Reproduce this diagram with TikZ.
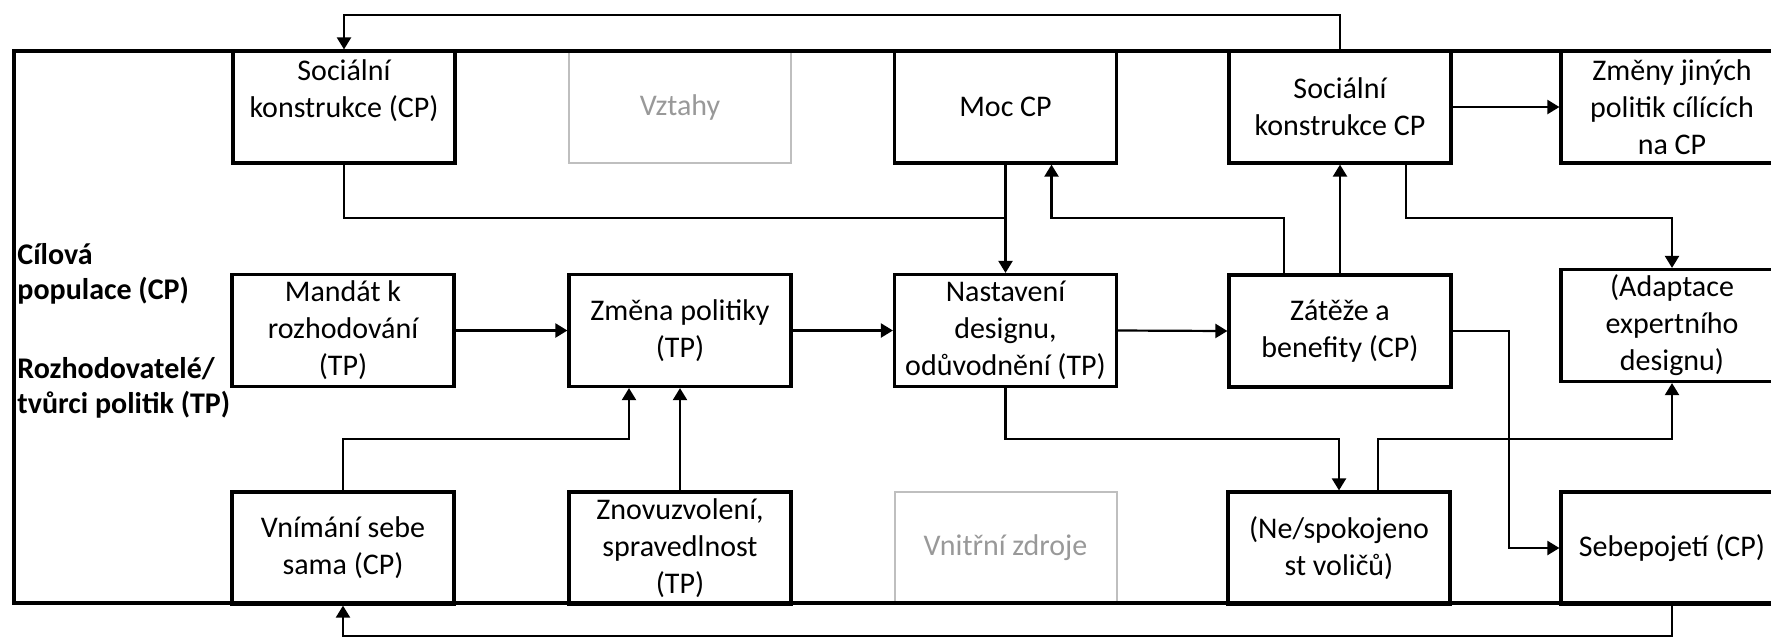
\documentclass[tikz,border=0pt]{standalone}
\usepackage{fontspec}
\setmainfont{Carlito}
\usetikzlibrary{arrows.meta}

\begin{document}
\begin{tikzpicture}[
  x=0.5pt, y=-0.5pt,
  every node/.style={font=\fontsize{15}{18.5}\selectfont},
  box/.style={draw, line width=1.6pt, minimum width=111pt, minimum height=56pt, inner sep=0pt, align=center},
  faint/.style={box, draw=black!25, line width=1pt, text=black!40},
  group/.style={font=\fontsize{15}{17.5}\selectfont\bfseries, align=left, anchor=west, inner sep=0pt},
  line/.style={line width=1.1pt},
  arr/.style={line, -{Triangle[length=6pt, width=7pt]}}
]
\useasboundingbox (0,0) rectangle (1771,639);
\clip (0,0) rectangle (1771,639);

\coordinate (topbus) at (0,15);
\coordinate (upbus) at (0,218);
\coordinate (lowbus) at (0,439);
\coordinate (botbus) at (0,636);

\node[box] (soc1) at (344,107) {Sociální\\konstrukce (CP)\\~};
\node[faint] (vztahy) at (680,107) {Vztahy};
\node[box] (moc) at (1005.5,107) {Moc CP};
\node[box] (soc2) at (1340,107) {Sociální\\konstrukce CP};
\node[box] (zmeny) at (1672,107) {Změny jiných\\politik cílících\\na CP};

\node[box] (mandat) at (343,330.5) {Mandát k\\rozhodování\\(TP)};
\node[box] (zmena) at (680,330.5) {Změna politiky\\(TP)};
\node[box] (nast) at (1005.5,330.5) {Nastavení\\designu,\\odůvodnění (TP)};
\node[box] (zat) at (1340,331) {Zátěže a\\benefity (CP)};
\node[box] (adapt) at (1672,325.5) {(Adaptace\\expertního\\designu)};

\node[box] (vnim) at (343,548) {Vnímání sebe\\sama (CP)};
\node[box] (znov) at (680,548) {Znovuzvolení,\\spravedlnost\\(TP)};
\node[faint] (vnitr) at (1005.5,548) {Vnitřní zdroje};
\node[box] (nespok) at (1339,548) {(Ne/spokojeno\\st voličů)};
\node[box] (sebe) at (1672,548) {Sebepojetí (CP)};

\node[group] (cp) at (17,274) {Cílová\\populace (CP)};
\node[group] (tp) at (17,387.5) {Rozhodovatelé/\\tvůrci politik (TP)};

\draw[line width=1.6pt] (14,51) rectangle (1830,603);

\draw[arr] (soc2.north) |- (topbus -| soc1.north) -- (soc1.north);
\draw[line] (soc1.south) |- (moc.south |- upbus);
\draw[arr] (moc.south) -- (nast.north);
\draw[arr] ([xshift=-28pt]zat.north) -- ([xshift=-28pt]zat.north |- upbus) -| ([xshift=23pt]moc.south);
\draw[arr] (zat.north) -- (soc2.south);
\draw[arr] (soc2.east) -- (zmeny.west);
\draw[arr] ([xshift=33pt]soc2.south) |- (adapt.north |- upbus) -- (adapt.north);

\draw[arr] (mandat.east) -- (zmena.west);
\draw[arr] (zmena.east) -- (nast.west);
\draw[arr] (nast.east) -- (zat.west);
\draw[arr] (zat.east) -- ++(28pt,0) |- (sebe.west);

\draw[arr] (vnim.north) |- ([xshift=-25.5pt]zmena.south |- lowbus) -- ([xshift=-25.5pt]zmena.south);
\draw[arr] (znov.north) -- (zmena.south);
\draw[arr] (nast.south) |- (nespok.north |- lowbus) -- (nespok.north);
\draw[arr] ([xshift=19.5pt]nespok.north) |- (adapt.south |- lowbus) -- (adapt.south);
\draw[arr] (sebe.south) |- (vnim.south |- botbus) -- (vnim.south);
\end{tikzpicture}
\end{document}
